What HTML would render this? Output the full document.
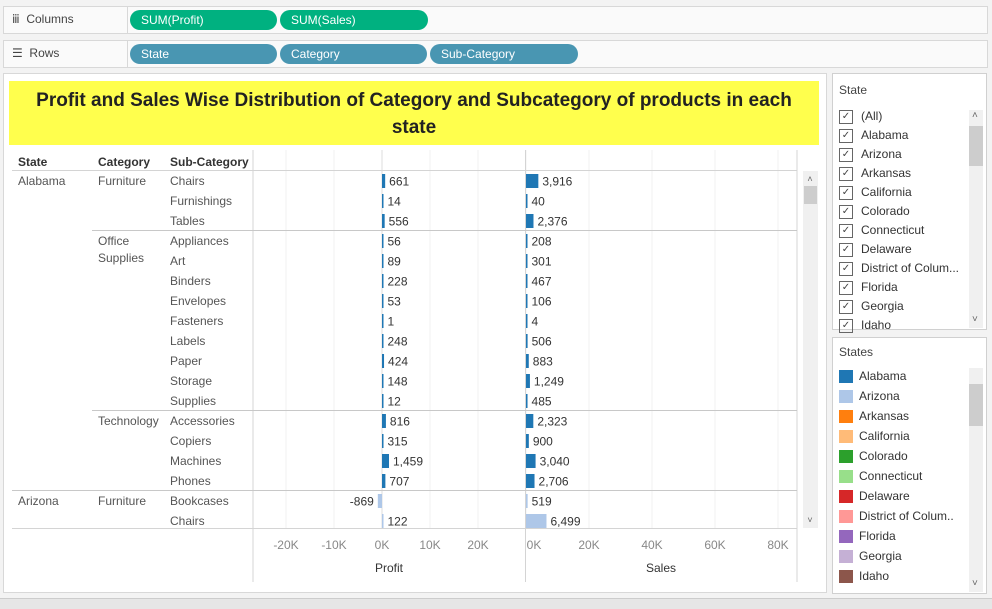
<!DOCTYPE html>
<html><head><meta charset="utf-8">
<style>
body{margin:0;width:992px;height:608px;background:#f3f3f3;font-family:"Liberation Sans",sans-serif;overflow:hidden;position:relative}
.abs{position:absolute}
.shelf{position:absolute;left:3px;width:983px;height:26px;background:#fafafa;border:1px solid #d8d8d8}
.shelf .lab{position:absolute;left:8px;top:5px;font-size:12px;color:#444}
.shelf .div{position:absolute;left:123px;top:0;width:1px;height:26px;background:#d8d8d8}
.pill{position:absolute;top:3px;height:20px;border-radius:10px;color:#fff;font-size:12px;line-height:20px;padding-left:11px;box-sizing:border-box}
.card{position:absolute;background:#fff;border:1px solid #d0d0d0}
.item{position:absolute;left:6px;font-size:12px;color:#333;height:19px;line-height:19px}
.cb{display:inline-block;width:12px;height:12px;border:1px solid #666;vertical-align:middle;margin-right:8px;font-size:10px;line-height:12px;text-align:center;color:#444}
.sw{display:inline-block;width:14px;height:13px;vertical-align:middle;margin-right:6px}
</style></head><body>
<div class="shelf" style="top:6px"><span class="lab">ⅲ&nbsp; Columns</span><div class="div"></div>
<div class="pill" style="left:126px;width:147px;background:#00b180">SUM(Profit)</div>
<div class="pill" style="left:276px;width:148px;background:#00b180">SUM(Sales)</div></div>
<div class="shelf" style="top:40px"><span class="lab">☰&nbsp; Rows</span><div class="div"></div>
<div class="pill" style="left:126px;width:147px;background:#4996b2">State</div>
<div class="pill" style="left:276px;width:147px;background:#4996b2">Category</div>
<div class="pill" style="left:426px;width:148px;background:#4996b2">Sub-Category</div></div>

<div class="card" style="left:3px;top:73px;width:822px;height:518px;border-color:#d8d8d8"></div>
<div class="abs" style="left:9px;top:81px;width:810px;height:64px;background:#ffff4d;text-align:center;font-size:19px;font-weight:bold;line-height:27px;color:#222;padding:6px 8px 0;box-sizing:border-box">Profit and Sales Wise Distribution of Category and Subcategory of products in each state</div>

<svg class="abs" style="left:0;top:0" width="830" height="600" id="chart"></svg>

<div class="card" style="left:832px;top:73px;width:153px;height:255px">
<div class="abs" style="left:6px;top:9px;font-size:12px;color:#444">State</div>
<div class="abs" style="left:136px;top:36px;width:14px;height:218px;background:#f0f0f0"><div class="abs" style="left:0;top:16px;width:14px;height:40px;background:#cdcdcd"></div><div class="abs" style="left:3px;top:0;font-size:10px;color:#666">˄</div><div class="abs" style="left:3px;top:204px;font-size:10px;color:#666">˅</div></div>
<div id="flist"></div></div>

<div class="card" style="left:832px;top:337px;width:153px;height:255px">
<div class="abs" style="left:6px;top:7px;font-size:12px;color:#444">States</div>
<div class="abs" style="left:136px;top:30px;width:14px;height:224px;background:#f0f0f0"><div class="abs" style="left:0;top:16px;width:14px;height:42px;background:#cdcdcd"></div><div class="abs" style="left:3px;top:210px;font-size:10px;color:#666">˅</div></div>
<div id="llist"></div></div>

<div class="abs" style="left:0;top:598px;width:992px;height:10px;background:#e6e6e6;border-top:1px solid #ccc"></div>

<script>
const states=["Alabama","Alabama","Alabama","Alabama","Alabama","Alabama","Alabama","Alabama","Alabama","Alabama","Alabama","Alabama","Alabama","Alabama","Alabama","Alabama","Arizona","Arizona"];
const categories=["Furniture","Furniture","Furniture","Office Supplies","Office Supplies","Office Supplies","Office Supplies","Office Supplies","Office Supplies","Office Supplies","Office Supplies","Office Supplies","Technology","Technology","Technology","Technology","Furniture","Furniture"];
const subCategories=["Chairs","Furnishings","Tables","Appliances","Art","Binders","Envelopes","Fasteners","Labels","Paper","Storage","Supplies","Accessories","Copiers","Machines","Phones","Bookcases","Chairs"];
const profit=[661,14,556,56,89,228,53,1,248,424,148,12,816,315,1459,707,-869,122];
const sales=[3916,40,2376,208,301,467,106,4,506,883,1249,485,2323,900,3040,2706,519,6499];
const profitTicks=[-20000,-10000,0,10000,20000];
const profitTickLabels=["-20K","-10K","0K","10K","20K"];
const salesTicks=[0,20000,40000,60000,80000];
const salesTickLabels=["0K","20K","40K","60K","80K"];
const legendStates=["Alabama","Arizona","Arkansas","California","Colorado","Connecticut","Delaware","District of Colum..","Florida","Georgia","Idaho"];
const legendColors=["#1f77b4","#aec7e8","#ff7f0e","#ffbb78","#2ca02c","#98df8a","#d62728","#ff9896","#9467bd","#c5b0d5","#8c564b"];
const filterStates=["(All)","Alabama","Arizona","Arkansas","California","Colorado","Connecticut","Delaware","District of Colum...","Florida","Georgia","Idaho"];

const NS="http://www.w3.org/2000/svg";
const svg=document.getElementById('chart');
function mk(t,a,txt){const e=document.createElementNS(NS,t);for(const k in a)e.setAttribute(k,a[k]);if(txt!==undefined)e.textContent=txt;svg.appendChild(e);return e;}
const px=v=>382+v*0.0048;
const sx=v=>526+v*0.00315;
const rowTop=171,rowH=20,paneBottom=528;
const colorOf=s=>legendColors[legendStates.indexOf(s)];
const defs=mk('defs',{});
const cp=document.createElementNS(NS,'clipPath');cp.setAttribute('id','pc');
const cr=document.createElementNS(NS,'rect');cr.setAttribute('x',0);cr.setAttribute('y',150);cr.setAttribute('width',800);cr.setAttribute('height',paneBottom-150);cp.appendChild(cr);defs.appendChild(cp);
profitTicks.forEach(t=>{const l=mk('line',{x1:px(t),x2:px(t),y1:150,y2:paneBottom,stroke:t==0?'#ddd':'#f0f0f0'});});
salesTicks.forEach(t=>{const l=mk('line',{x1:sx(t),x2:sx(t),y1:150,y2:paneBottom,stroke:'#f0f0f0'});});
mk('line',{x1:253,x2:253,y1:150,y2:582,stroke:'#d4d4d4'});
mk('line',{x1:525.5,x2:525.5,y1:150,y2:582,stroke:'#d4d4d4'});
mk('line',{x1:797,x2:797,y1:150,y2:582,stroke:'#d4d4d4'});
mk('line',{x1:12,x2:797,y1:170.5,y2:170.5,stroke:'#d4d4d4'});
mk('line',{x1:12,x2:797,y1:paneBottom+.5,y2:paneBottom+.5,stroke:'#d4d4d4'});
[["State",18],["Category",98],["Sub-Category",170]].forEach(h=>{const t=mk('text',{x:h[1],y:166,'font-size':12,'font-weight':'bold',fill:'#333'},h[0]);});
const g=document.createElementNS(NS,'g');g.setAttribute('clip-path','url(#pc)');svg.appendChild(g);
function gm(t,a,txt){const e=mk(t,a,txt);g.appendChild(e);return e;}
subCategories.forEach((sc,i)=>{
  const y=rowTop+i*rowH, cy=y+rowH/2;
  if(i>0&&states[i]!==states[i-1]) gm('line',{x1:12,x2:797,y1:y-.5,y2:y-.5,stroke:'#c8c8c8'});
  else if(i>0&&categories[i]!==categories[i-1]) gm('line',{x1:92,x2:797,y1:y-.5,y2:y-.5,stroke:'#c8c8c8'});
  if(i==0||states[i]!==states[i-1]){const t=gm('text',{x:18,y:cy+4,'font-size':12,fill:'#555'},states[i]);}
  if(i==0||categories[i]!==categories[i-1]||states[i]!==states[i-1]){
    categories[i].split(' ').forEach((w,k)=>{const t=gm('text',{x:98,y:cy+4+k*17,'font-size':12,fill:'#555'},w);});
  }
  const st=gm('text',{x:170,y:cy+4,'font-size':12,fill:'#555'},sc);
  const c=colorOf(states[i]);
  const p=profit[i],x0=Math.min(px(0),px(p)),w=Math.max(Math.abs(px(p)-px(0)),1.5);
  const b=gm('rect',{x:x0,y:cy-7,width:w,height:14,fill:c});
  const pl=gm('text',{x:p<0?x0-4:x0+w+4,y:cy+4.5,'font-size':12,fill:'#333','text-anchor':p<0?'end':'start'},p.toLocaleString('en-US'));
  const sw=Math.max(sx(sales[i])-sx(0),1.5);
  const sb=gm('rect',{x:sx(0),y:cy-7,width:sw,height:14,fill:c});
  const sl=gm('text',{x:sx(0)+sw+4,y:cy+4.5,'font-size':12,fill:'#333'},sales[i].toLocaleString('en-US'));
});
profitTicks.forEach((t,i)=>{const e=mk('text',{x:px(t),y:549,'font-size':12,fill:'#888','text-anchor':'middle'},profitTickLabels[i]);});
salesTicks.forEach((t,i)=>{const e=mk('text',{x:sx(t)+(i==0?8:0),y:549,'font-size':12,fill:'#888','text-anchor':'middle'},salesTickLabels[i]);});
let a=mk('text',{x:389,y:572,'font-size':12,fill:'#333','text-anchor':'middle'},'Profit');
a=mk('text',{x:661,y:572,'font-size':12,fill:'#333','text-anchor':'middle'},'Sales');
let s=mk('rect',{x:803,y:171,width:15,height:357,fill:'#f0f0f0'});
mk('rect',{x:804,y:186,width:13,height:18,fill:'#cdcdcd'});
mk('text',{x:810,y:182,'font-size':9,fill:'#666','text-anchor':'middle'},'˄');
mk('text',{x:810,y:523,'font-size':9,fill:'#666','text-anchor':'middle'},'˅');

const fl=document.getElementById('flist');
filterStates.forEach((n,i)=>{const d=document.createElement('div');d.className='item';d.style.top=(33+i*19)+'px';d.innerHTML='<span class="cb">✓</span>'+n;


fl.appendChild(d);});
const ll=document.getElementById('llist');
legendStates.forEach((n,i)=>{const d=document.createElement('div');d.className='item';d.style.top=(29+i*20)+'px';d.innerHTML='<span class="sw" style="background:'+legendColors[i]+'"></span>'+n;


ll.appendChild(d);});
</script>
</body></html>
